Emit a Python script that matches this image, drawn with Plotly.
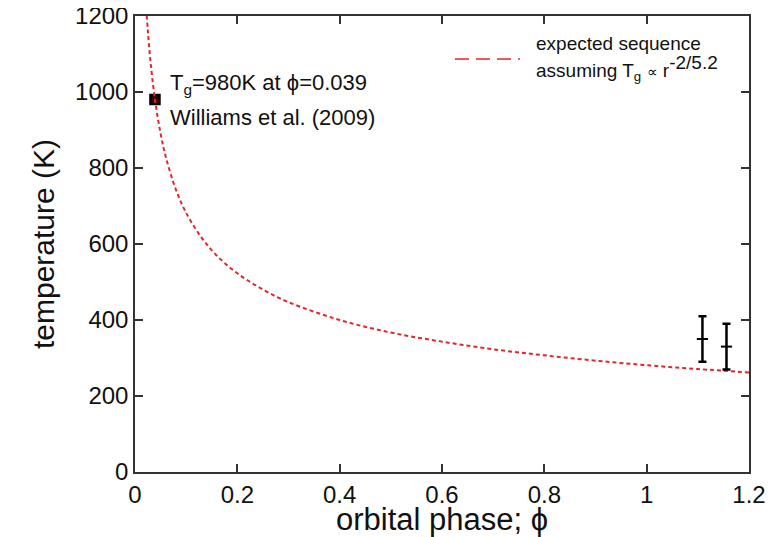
import plotly.graph_objects as go

# Expected temperature sequence
curve_phase = [0.022, 0.025, 0.03, 0.039, 0.05, 0.06, 0.08, 0.1, 0.13, 0.16, 0.2, 0.25,
               0.3, 0.4, 0.5, 0.6, 0.7, 0.8, 0.9, 1.0, 1.1, 1.2]
curve_temp = [1220, 1163, 1084, 980, 891, 830, 743, 682, 617, 569, 523, 480,
              447, 400, 367, 343, 323, 307, 293, 281, 271, 262]

# Williams et al. (2009) point
williams_phase = [0.039]
williams_temp = [980]

# Measurements with error bars
obs_phase = [1.109, 1.156]
obs_temp = [350, 330]
obs_err = [60, 60]

RED = "#e3262b"
FONT = "Liberation Sans, Arial, sans-serif"

fig = go.Figure()

fig.add_trace(go.Scatter(
    x=williams_phase, y=williams_temp, mode="markers",
    marker=dict(symbol="square", size=9, color="#400000",
                line=dict(color="black", width=2.5)),
    showlegend=False, cliponaxis=False))

fig.add_trace(go.Scatter(
    x=curve_phase, y=curve_temp, mode="lines", line_shape="spline",
    line=dict(color=RED, width=2, dash="4px,3px"),
    showlegend=False))

fig.add_trace(go.Scatter(
    x=obs_phase, y=obs_temp, mode="markers",
    marker=dict(symbol="line-ew", size=8, line=dict(color="black", width=2)),
    error_y=dict(type="data", array=obs_err, visible=True, color="black",
                 thickness=2.5, width=4),
    showlegend=False))

axis_common = dict(
    showline=True, linecolor="#333333", linewidth=1.5, mirror="ticks",
    ticks="inside", ticklen=8, tickwidth=1.5, tickcolor="#333333",
    showgrid=False, zeroline=False, automargin=False, ticklabeloverflow="allow",
    tickfont=dict(family=FONT, size=24, color="#111111"),
)

fig.update_xaxes(
    range=[0, 1.2], tickvals=[0, 0.2, 0.4, 0.6, 0.8, 1.0, 1.2],
    ticktext=["0", "0.2", "0.4", "0.6", "0.8", "1", "1.2"],
    **axis_common)
fig.update_yaxes(
    range=[0, 1200], tickvals=[0, 200, 400, 600, 800, 1000, 1200],
    title=dict(text="temperature (K)", font=dict(family=FONT, size=30, color="#111111"),
               standoff=12),
    **axis_common)

# x-axis title as annotation so it sits just above the bottom edge
fig.add_annotation(
    x=0.5, y=(472 - 519) / 456, xref="paper", yref="paper",
    xanchor="center", yanchor="middle", text="orbital phase; ϕ", showarrow=False,
    font=dict(family=FONT, size=31, color="#111111"))

fig.add_annotation(
    x=0.065, y=1022, xref="x", yref="y", xanchor="left", yanchor="middle",
    text="T<sub>g</sub>=980K at ϕ=0.039", showarrow=False,
    font=dict(family=FONT, size=22, color="#111111"))
fig.add_annotation(
    x=0.065, y=934, xref="x", yref="y", xanchor="left", yanchor="middle",
    text="Williams et al. (2009)", showarrow=False,
    font=dict(family=FONT, size=22, color="#111111"))

# legend
fig.add_shape(type="line", xref="paper", yref="paper",
              x0=(455 - 135) / 614, x1=(520 - 135) / 614,
              y0=(472 - 59) / 456, y1=(472 - 59) / 456,
              line=dict(color=RED, width=1.5, dash="14px,7px"))
fig.add_annotation(
    x=(534 - 135) / 614, y=(472 - 43) / 456, xref="paper", yref="paper",
    xanchor="left", yanchor="middle", text="expected sequence", showarrow=False,
    font=dict(family=FONT, size=19, color="#111111"))
fig.add_annotation(
    x=(534 - 135) / 614, y=(472 - 68) / 456, xref="paper", yref="paper",
    xanchor="left", yanchor="middle",
    text="assuming T<sub>g</sub> <span style='font-size:15px'>∝</span> r<sup><span style='font-size:19px'>-2/5.2</span></sup>",
    showarrow=False,
    font=dict(family=FONT, size=19, color="#111111"))

# the page body adds an 8px offset; margins compensate so the plot area
# lands at x 135-749, y 16-472 of the window
fig.update_layout(
    width=782, height=537,
    margin=dict(l=127, r=41, t=8, b=73),
    paper_bgcolor="white", plot_bgcolor="white",
    font=dict(family=FONT),
)

fig.write_html("out.html")
